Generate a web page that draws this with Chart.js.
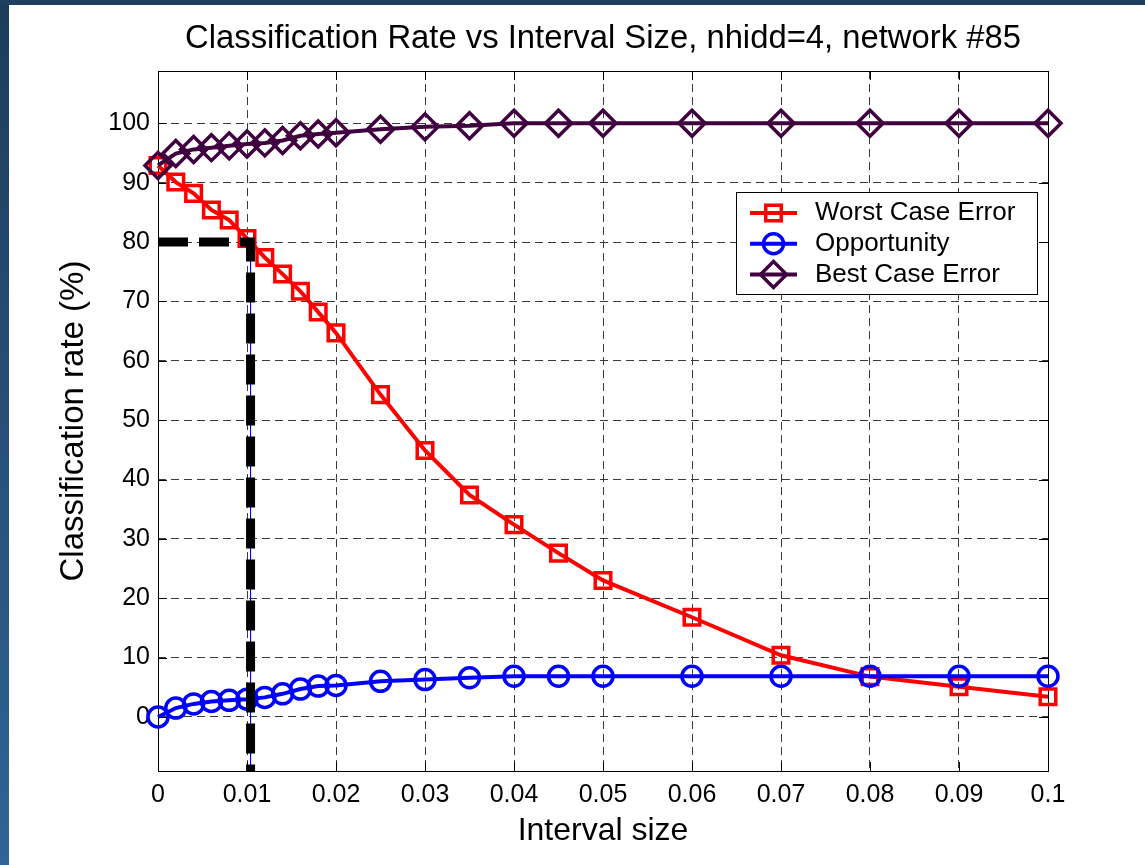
<!DOCTYPE html>
<html>
<head>
<meta charset="utf-8">
<title>Classification Rate vs Interval Size</title>
<script src="https://cdn.jsdelivr.net/npm/chart.js@4.4.1/dist/chart.umd.min.js"></script>
<style>
  html, body { margin: 0; padding: 0; background: #fff; }
  #wrap { position: relative; width: 1145px; height: 865px; overflow: hidden; background: #fff; }
  #chart { position: absolute; left: 0; top: 0; }
  .edge-left { position: absolute; left: 0; top: 0; width: 9px; height: 865px; background: linear-gradient(#1d3c5c, #2f6496); }
  .edge-top { position: absolute; left: 0; top: 0; width: 1145px; height: 5px; background: #1f3f60; }
</style>
</head>
<body>
<div id="wrap">
  <canvas id="chart" width="1145" height="865"></canvas>
  <div class="edge-left"></div>
  <div class="edge-top"></div>
</div>
<script>
// Data
const intervalSize = [0, 0.002, 0.004, 0.006, 0.008, 0.01, 0.012, 0.014, 0.016, 0.018, 0.02,
  0.025, 0.03, 0.035, 0.04, 0.045, 0.05, 0.06, 0.07, 0.08, 0.09, 0.1];
const worstCase = [92.9, 90.1, 88.2, 85.4, 83.7, 80.6, 77.4, 74.6, 71.7, 68.2, 64.7,
  54.3, 44.9, 37.4, 32.4, 27.6, 23.0, 16.8, 10.4, 6.8, 5.1, 3.4];
const opportunity = [0, 1.5, 2.2, 2.6, 2.8, 3.0, 3.3, 3.9, 4.7, 5.2, 5.3,
  6.0, 6.3, 6.6, 6.85, 6.85, 6.85, 6.85, 6.85, 6.85, 6.85, 6.85];
const bestCase = [92.9, 94.9, 95.6, 95.9, 96.2, 96.5, 96.7, 97.1, 97.9, 98.2, 98.4,
  99.0, 99.4, 99.6, 100, 100, 100, 100, 100, 100, 100, 100];

const xTicks = [0, 0.01, 0.02, 0.03, 0.04, 0.05, 0.06, 0.07, 0.08, 0.09, 0.1];
const xTickLabels = ["0", "0.01", "0.02", "0.03", "0.04", "0.05", "0.06", "0.07", "0.08", "0.09", "0.1"];
const yTicks = [0, 10, 20, 30, 40, 50, 60, 70, 80, 90, 100];
const yTickLabels = ["0", "10", "20", "30", "40", "50", "60", "70", "80", "90", "100"];
const Y_MIN = -9.1;
const Y_MAX = 108.8;

// 80% operating point marker (thick dashed) and its thin guide
const markerX = [0, 0.0104, 0.0104];
const markerY = [80, 80, Y_MIN];
const guideX = [0.0104, 0.0104];
const guideY = [80, Y_MIN];

const legendLabels = ["Worst Case Error", "Opportunity", "Best Case Error"];

// Chart global defaults
Chart.defaults.font.family = "'Liberation Sans', Arial, sans-serif";
Chart.defaults.color = "#000";

const C_RED = "#ff0000";
const C_BLUE = "#0000ff";
const C_PURPLE = "#400040";
const gridCol = "#3a3a3a";
const NONE = "rgba(0,0,0,0)";

const pts = (xs, ys) => xs.map((x, i) => ({ x: x, y: ys[i] }));

function series(label, ys, color, style, radius, order) {
  return {
    label: label,
    data: pts(intervalSize, ys),
    borderColor: color,
    backgroundColor: NONE,
    borderWidth: 4,
    tension: 0,
    pointStyle: style,
    pointRadius: radius,
    pointBorderWidth: 3.5,
    pointBorderColor: color,
    pointBackgroundColor: NONE,
    clip: false,
    order: order,
  };
}

// ── Axes box + inner tick marks ──
const frame = {
  id: "frame",
  beforeDatasetsDraw(chart) {
    const { ctx, chartArea: a, scales } = chart;
    const tl = 9;
    ctx.save();
    ctx.strokeStyle = "#000";
    ctx.lineWidth = 1;
    ctx.setLineDash([]);
    ctx.beginPath();
    xTicks.forEach((v) => {
      const px = Math.round(scales.x.getPixelForValue(v)) + 0.5;
      ctx.moveTo(px, a.bottom); ctx.lineTo(px, a.bottom - tl);
      ctx.moveTo(px, a.top); ctx.lineTo(px, a.top + tl);
    });
    yTicks.forEach((v) => {
      const py = Math.round(scales.y.getPixelForValue(v)) + 0.5;
      ctx.moveTo(a.left, py); ctx.lineTo(a.left + tl, py);
      ctx.moveTo(a.right, py); ctx.lineTo(a.right - tl, py);
    });
    ctx.stroke();
    ctx.strokeRect(Math.round(a.left) + 0.5, Math.round(a.top) + 0.5,
      Math.round(a.right - a.left), Math.round(a.bottom - a.top));
    ctx.restore();
  },
};

// ── Boxed legend, top right inside the axes ──
const boxLegend = {
  id: "boxLegend",
  afterDraw(chart) {
    const { ctx, chartArea: a } = chart;
    const left = a.right - 312, top = a.top + 121, w = 301, h = 102;
    ctx.save();
    ctx.fillStyle = "#fff";
    ctx.fillRect(left, top, w, h);
    ctx.strokeStyle = "#000";
    ctx.lineWidth = 1;
    ctx.setLineDash([]);
    ctx.strokeRect(Math.round(left) + 0.5, Math.round(top) + 0.5, w, h);
    ctx.font = "26px 'Liberation Sans', Arial, sans-serif";
    ctx.textBaseline = "middle";
    ctx.textAlign = "left";
    legendLabels.forEach((lab, i) => {
      const ds = chart.data.datasets.find((d) => d.label === lab);
      const y = top + 21 + i * 30.7;
      ctx.strokeStyle = ds.borderColor;
      ctx.lineWidth = ds.borderWidth;
      ctx.beginPath();
      ctx.moveTo(left + 14, y);
      ctx.lineTo(left + 61, y);
      ctx.stroke();
      ctx.lineWidth = ds.pointBorderWidth;
      ctx.fillStyle = NONE;
      Chart.helpers.drawPoint(ctx, { pointStyle: ds.pointStyle, radius: ds.pointRadius, rotation: 0, borderWidth: ds.pointBorderWidth }, left + 37.5, y);
      ctx.fillStyle = "#000";
      ctx.fillText(lab, left + 79, y);
    });
    ctx.restore();
  },
};

new Chart(document.getElementById("chart"), {
  type: "line",
  data: {
    datasets: [
      {
        label: "marker",
        data: pts(markerX, markerY),
        borderColor: "#000",
        borderWidth: 9,
        borderDash: [30, 11],
        borderCapStyle: "butt",
        pointRadius: 0,
        clip: false,
        order: 0,
      },
      {
        label: "guide",
        data: pts(guideX, guideY),
        borderColor: C_BLUE,
        borderWidth: 1,
        pointRadius: 0,
        order: 1,
      },
      series("Best Case Error", bestCase, C_PURPLE, "rectRot", 13, 2),
      series("Opportunity", opportunity, C_BLUE, "circle", 10, 3),
      series("Worst Case Error", worstCase, C_RED, "rect", 11, 4),
    ],
  },
  options: {
    responsive: false,
    animation: false,
    layout: { padding: { left: 0, top: 0, right: 97, bottom: 0 } },
    plugins: {
      legend: { display: false },
      tooltip: { enabled: false },
      title: {
        display: true,
        fullSize: false,
        text: "Classification Rate vs Interval Size, nhidd=4, network #85",
        color: "#000",
        font: { size: 32.8, weight: "normal", lineHeight: 1.2 },
        padding: { top: 19.5, bottom: 12.2 },
      },
    },
    scales: {
      x: {
        type: "linear",
        min: 0,
        max: 0.1,
        afterBuildTicks: (s) => { s.ticks = xTicks.map((v) => ({ value: v })); },
        afterFit: (s) => { s.height = 94; },
        grid: { color: gridCol, lineWidth: 1, drawTicks: false },
        border: { display: false, dash: [8, 5] },
        ticks: {
          color: "#000",
          font: { size: 25 },
          padding: 9,
          maxRotation: 0,
          autoSkip: false,
          callback: (v, i) => xTickLabels[i],
        },
        title: {
          display: true,
          text: "Interval size",
          color: "#000",
          font: { size: 32, lineHeight: 1.2 },
          padding: { top: 0, bottom: 14.8 },
        },
      },
      y: {
        type: "linear",
        min: Y_MIN,
        max: Y_MAX,
        afterBuildTicks: (s) => { s.ticks = yTicks.map((v) => ({ value: v })); },
        afterFit: (s) => { s.width = 158; },
        grid: { color: gridCol, lineWidth: 1, drawTicks: false },
        border: { display: false, dash: [8, 5] },
        ticks: {
          color: "#000",
          font: { size: 25 },
          padding: 8,
          autoSkip: false,
          callback: (v, i) => yTickLabels[i],
        },
        title: {
          display: true,
          text: "Classification rate (%)",
          color: "#000",
          font: { size: 33, lineHeight: 1.2 },
          padding: { top: 54, bottom: 0 },
        },
      },
    },
  },
  plugins: [frame, boxLegend],
});
</script>
</body>
</html>
